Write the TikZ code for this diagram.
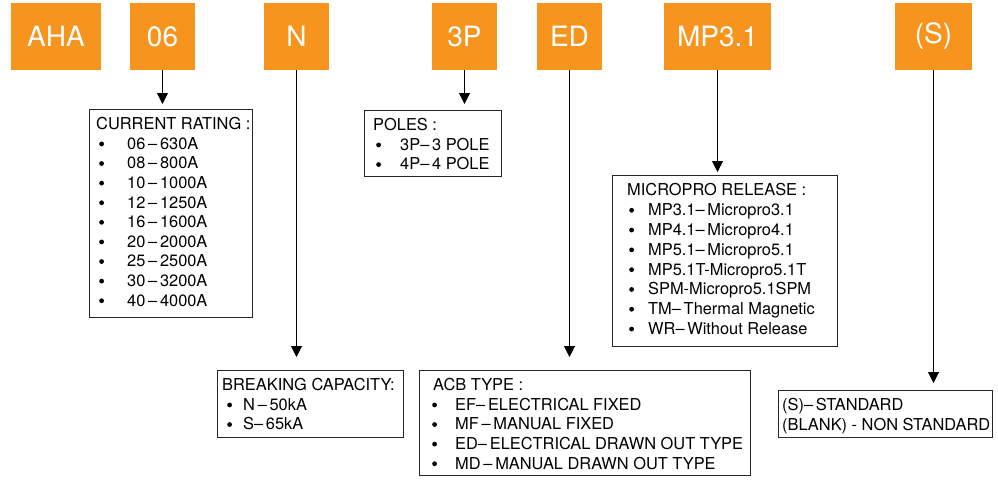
\documentclass[tikz,border=0pt]{standalone}
\usepackage{fontspec}
\setmainfont{TeX Gyre Heros}
\usetikzlibrary{arrows.meta}
\definecolor{aorange}{RGB}{247,148,30}
\newcommand\bigbul{\tikz[baseline=0pt]\fill[black] (2.4pt,5.4pt) circle[radius=2.4pt];}
\newcommand\bitem[3]{\strut\hspace*{#1pt}\makebox[#2pt][l]{\bigbul}#3}
\begin{document}
\begin{tikzpicture}[x=1pt,y=-1pt,
  code/.style={fill=aorange, text=white, inner sep=0, minimum height=67pt, font=\fontsize{28}{30}\selectfont},
  infobox/.style={draw=black!85, line width=0.9pt, inner sep=0, anchor=north west},
  infotext/.style={anchor=north west, inner sep=0, align=left, font=\fontsize{16.4}{19.6}\selectfont},
  arr/.style={-{Triangle[length=11pt,width=11pt]}, line width=1pt}
]
\useasboundingbox (0,0) rectangle (998,479);
% orange code boxes
\node[code, minimum width=90pt] (aha) at (56,36.5) {AHA};
\node[code, minimum width=65pt] (o06) at (162.5,36.5) {06};
\node[code, minimum width=65pt] (oN) at (296.5,36.5) {N};
\node[code, minimum width=65pt] (o3P) at (464.5,36.5) {3P};
\node[code, minimum width=65pt] (oED) at (569.5,36.5) {ED};
\node[code, minimum width=107pt] (oMP) at (717.5,36.5) {MP3.1};
\node[code, minimum width=77pt] (oS) at (933.5,36.5) {(S)};
% info boxes
\node[infobox, minimum width=163pt, minimum height=208pt] (cur) at (89,109) {};
\node[infobox, minimum width=137pt, minimum height=66pt] (pol) at (364,110) {};
\node[infobox, minimum width=225pt, minimum height=171pt] (mp) at (612,175) {};
\node[infobox, minimum width=186pt, minimum height=67pt] (brk) at (217,370) {};
\node[infobox, minimum width=331pt, minimum height=105pt] (acb) at (419,370) {};
\node[infobox, minimum width=214pt, minimum height=47pt] (std) at (778,390) {};
% texts
\node[infotext] (curt) at ([xshift=7pt,yshift=-6.8pt]cur.north west) {\strut CURRENT RATING :\\
\bitem{3}{28}{06\,–\,630A}\\
\bitem{3}{28}{08\,–\,800A}\\
\bitem{3}{28}{10\,–\,1000A}\\
\bitem{3}{28}{12\,–\,1250A}\\
\bitem{3}{28}{16\,–\,1600A}\\
\bitem{3}{28}{20\,–\,2000A}\\
\bitem{3}{28}{25\,–\,2500A}\\
\bitem{3}{28}{30\,–\,3200A}\\
\bitem{3}{28}{40\,–\,4000A}};
\node[infotext] (polt) at ([xshift=9pt,yshift=-6.8pt]pol.north west) {\strut POLES :\\
\bitem{3}{24}{3P–\,3 POLE}\\
\bitem{3}{24}{4P–\,4 POLE}};
\node[infotext, font=\fontsize{16.4}{19.8}\selectfont] (mpt) at ([xshift=15pt,yshift=-6.8pt]mp.north west) {\strut MICROPRO RELEASE :\\
\bitem{2}{19}{MP3.1–\,Micropro3.1}\\
\bitem{2}{19}{MP4.1–\,Micropro4.1}\\
\bitem{2}{19}{MP5.1–\,Micropro5.1}\\
\bitem{2}{19}{MP5.1T-Micropro5.1T}\\
\bitem{2}{19}{SPM-Micropro5.1SPM}\\
\bitem{2}{19}{TM–\,Thermal Magnetic}\\
\bitem{2}{19}{WR–\,Without Release}};
\node[infotext] (brkt) at ([xshift=5pt,yshift=-6.8pt]brk.north west) {\strut BREAKING CAPACITY:\\
\bitem{5}{16}{N\,–\,50kA}\\
\bitem{5}{16}{S–\,65kA}};
\node[infotext] (acbt) at ([xshift=14pt,yshift=-6.8pt]acb.north west) {\strut ACB TYPE :\\
\bitem{-1}{23}{EF–\,ELECTRICAL FIXED}\\
\bitem{-1}{23}{MF\,–\,MANUAL FIXED}\\
\bitem{-1}{23}{ED–\,ELECTRICAL DRAWN OUT TYPE}\\
\bitem{-1}{23}{MD\,–\,MANUAL DRAWN OUT TYPE}};
\node[infotext] (stdt) at ([xshift=4pt,yshift=-6.8pt]std.north west) {\strut (S)–\,STANDARD\\
\strut (BLANK) - NON STANDARD};
% connectors
\draw[arr, shorten >=5pt] (o06.south) -- (o06.south |- cur.north);
\draw[arr, shorten >=6pt] (o3P.south) -- (o3P.south |- pol.north);
\draw[arr, shorten >=3pt] (oMP.south) -- (oMP.south |- mp.north);
\draw[arr, shorten >=13pt] (oN.south) -- (oN.south |- brk.north);
\draw[arr, shorten >=13pt] (oED.south) -- (oED.south |- acb.north);
\draw[arr, shorten >=7pt] (oS.south) -- (oS.south |- std.north);
\end{tikzpicture}
\end{document}
